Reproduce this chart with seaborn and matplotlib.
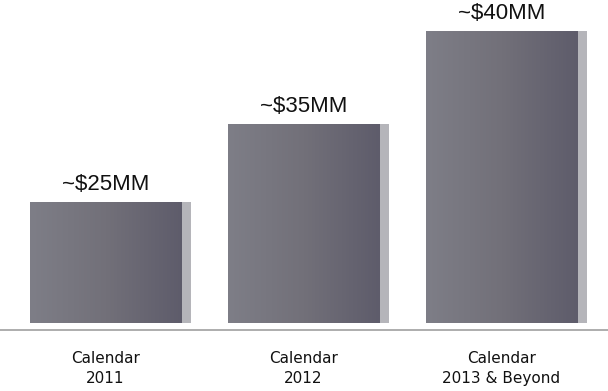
import numpy as np
import pandas as pd
import matplotlib
matplotlib.use("Agg")
import matplotlib.pyplot as plt
from matplotlib.patches import Rectangle
from matplotlib.colors import LinearSegmentedColormap
import seaborn as sns

# ---- data ----
categories = ["Calendar\n2011", "Calendar\n2012", "Calendar\n2013 & Beyond"]
bar_labels = ["~$25MM", "~$35MM", "~$40MM"]
# visual bar heights as drawn (schematic, not to scale with labels)
bar_heights = [121, 199, 292]

df = pd.DataFrame({"period": categories, "height": bar_heights})

sns.set_theme(style="white")
plt.rcParams["font.family"] = ["DejaVu Sans"]

fig = plt.figure(figsize=(6.08, 3.91), dpi=100)
ax = fig.add_axes([0, 0, 1, 1])

sns.barplot(data=df, x="period", y="height", color="#6e6d7a", width=0.763,
            saturation=1, ax=ax, zorder=2)

ax.set_xlim(-0.533, 2.538)
ax.set_ylim(-68, 323)

cmap = LinearSegmentedColormap.from_list("face", ["#7e7e87", "#727079", "#5e5c6b"])
grad = np.linspace(0, 1, 256).reshape(1, -1)
depth = 0.052
for p in ax.patches[:]:
    x, y = p.get_x(), p.get_y()
    w, h = p.get_width(), p.get_height()
    p.set_facecolor("none")
    p.set_edgecolor("none")
    im = ax.imshow(grad, extent=[x, x + w, y, y + h], aspect="auto",
                   cmap=cmap, zorder=2, interpolation="bicubic")
    im.set_clip_path(p)
    # side face
    ax.add_patch(Rectangle((x + w, y), depth, h, facecolor="#b5b5ba",
                           edgecolor="none", zorder=1.9))

ax.bar_label(ax.containers[0], labels=bar_labels, padding=5, fontsize=16,
             family="Liberation Sans", color="#111111")

# baseline
ax.axhline(-7, color="#a0a0a0", lw=1.2, zorder=1)

ax.set_xlabel("")
ax.set_ylabel("")
ax.set_yticks([])
ax.spines["bottom"].set_position(("data", 0))
ax.tick_params(axis="x", length=0, pad=20, labelsize=11, labelcolor="#111111")
for lbl in ax.get_xticklabels():
    lbl.set_linespacing(1.4)
for s in ax.spines.values():
    s.set_visible(False)
ax.set_ylim(-68, 323)

fig.savefig("out.png", dpi=100, facecolor="white")
